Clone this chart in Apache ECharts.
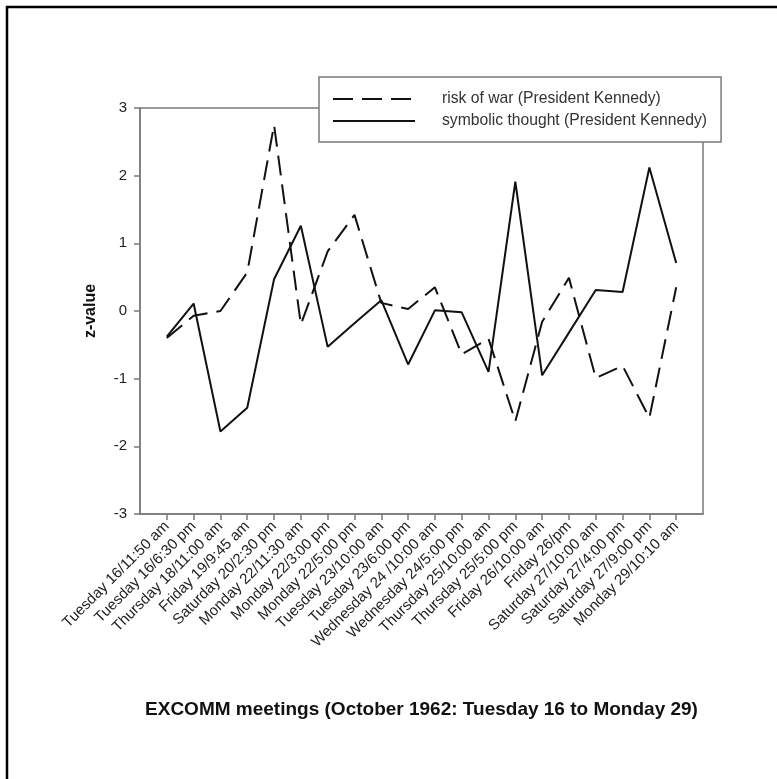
<!DOCTYPE html>
<html>
<head>
<meta charset="utf-8">
<script src="https://cdn.jsdelivr.net/npm/echarts@6/dist/echarts.min.js"></script>
<style>
  html, body { margin: 0; padding: 0; background: #fff; }
  #chart { width: 777px; height: 779px; }
</style>
</head>
<body>
<div id="chart"></div>
<script>
// EXCOMM meetings, October 1962
const meetings = [
  'Tuesday 16/11:50 am', 'Tuesday 16/6:30 pm', 'Thursday 18/11:00 am', 'Friday 19/9:45 am',
  'Saturday 20/2:30 pm', 'Monday 22/11:30 am', 'Monday 22/3:00 pm', 'Monday 22/5:00 pm',
  'Tuesday 23/10:00 am', 'Tuesday 23/6:00 pm', 'Wednesday 24 /10:00 am', 'Wednesday 24/5:00 pm',
  'Thursday 25/10:00 am', 'Thursday 25/5:00 pm', 'Friday 26/10:00 am', 'Friday 26/pm',
  'Saturday 27/10:00 am', 'Saturday 27/4:00 pm', 'Saturday 27/9:00 pm', 'Monday 29/10:10 am'
];

// z-values per meeting
const riskOfWar = [
  -0.40, -0.07, 0.00, 0.57, 2.75, -0.20, 0.88, 1.42, 0.12, 0.03,
  0.35, -0.64, -0.41, -1.63, -0.16, 0.49, -0.99, -0.81, -1.58, 0.35
];
const symbolicThought = [
  -0.38, 0.11, -1.78, -1.43, 0.47, 1.26, -0.53, -0.18, 0.16, -0.79,
  0.01, -0.02, -0.90, 1.91, -0.95, -0.32, 0.31, 0.28, 2.12, 0.71
];

const yMin = -3, yMax = 3, yStep = 1;

const seriesNames = ['risk of war (President Kennedy)', 'symbolic thought (President Kennedy)'];

// pad the category axis with one empty slot on each side
const categories = [''].concat(meetings, ['']);
const pad = arr => [null].concat(arr, [null]);

const axisGrey = '#7a7a7a';
const ink = '#111111';
const font = 'Arial, "Liberation Sans", sans-serif';

const chart = echarts.init(document.getElementById('chart'), null, { renderer: 'canvas' });
chart.setOption({
  backgroundColor: '#ffffff',
  animation: false,
  grid: {
    left: 140, top: 108, right: 74, bottom: 265,
    show: true, borderColor: axisGrey, borderWidth: 1.5, backgroundColor: 'transparent'
  },
  legend: {
    data: seriesNames,
    orient: 'vertical',
    left: 319, top: 77,
    padding: [14, 14, 13, 13],
    itemWidth: 82, itemHeight: 14, itemGap: 6,
    backgroundColor: '#ffffff',
    borderColor: axisGrey, borderWidth: 1.5,
    itemStyle: { opacity: 0 },
    textStyle: { fontFamily: font, fontSize: 15.7, color: '#333', padding: [0, 0, 0, 22] }
  },
  xAxis: {
    type: 'category',
    data: categories,
    boundaryGap: false,
    name: 'EXCOMM meetings (October 1962: Tuesday 16 to Monday 29)',
    nameLocation: 'middle',
    nameGap: 186,
    nameTextStyle: { fontFamily: font, fontSize: 19, fontWeight: 'bold', color: ink },
    axisLine: { onZero: false, lineStyle: { color: axisGrey, width: 1.5 } },
    axisTick: {
      show: true, length: 6, inside: false,
      interval: (i, v) => v !== '',
      lineStyle: { color: axisGrey, width: 1.5 }
    },
    axisLabel: {
      interval: 0, rotate: 45, margin: 10,
      fontFamily: font, fontSize: 15, color: '#222'
    },
    splitLine: { show: false }
  },
  yAxis: {
    type: 'value',
    min: yMin, max: yMax, interval: yStep,
    name: 'z-value',
    nameLocation: 'middle',
    nameGap: 41,
    nameTextStyle: { fontFamily: font, fontSize: 16, fontWeight: 'bold', color: ink },
    axisLine: { show: true, lineStyle: { color: axisGrey, width: 1.5 } },
    axisTick: { show: true, length: 6, lineStyle: { color: axisGrey, width: 1.5 } },
    axisLabel: { margin: 13, fontFamily: font, fontSize: 15, color: '#222' },
    splitLine: { show: false }
  },
  series: [
    {
      name: seriesNames[0],
      type: 'line',
      data: pad(riskOfWar),
      symbol: 'none',
      connectNulls: false,
      itemStyle: { color: ink },
      lineStyle: { color: ink, width: 2, type: [20, 9] }
    },
    {
      name: seriesNames[1],
      type: 'line',
      data: pad(symbolicThought),
      symbol: 'none',
      connectNulls: false,
      itemStyle: { color: ink },
      lineStyle: { color: ink, width: 2, type: 'solid' }
    }
  ],
  graphic: [
    {
      type: 'rect',
      shape: { x: 7, y: 7, width: 800, height: 800 },
      style: { fill: 'none', stroke: '#000', lineWidth: 2.5 },
      silent: true
    }
  ]
});
</script>
</body>
</html>
